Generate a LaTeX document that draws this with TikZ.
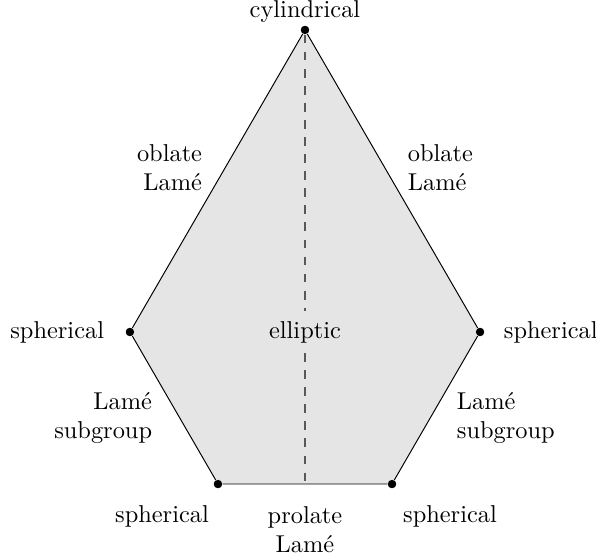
\documentclass[tikz,border=0pt]{standalone}
\usepackage{tikz}
\usetikzlibrary{positioning}

\begin{document}
\begin{tikzpicture}[x=0.41pt, y=-0.41pt,
          every node/.style={inner sep=1pt},
          vertex/.style={circle, fill=black, inner sep=0pt, minimum size=3.4pt},
          leftlabel/.style={anchor=east, align=right},
          rightlabel/.style={anchor=west, align=left},
          axis/.style={black!65, line width=0.6pt, dash pattern=on 3.6pt off 3.4pt}]
          \useasboundingbox (0,0) rectangle (596,560);
          % vertices of the hexagon
          \node[vertex] (top) at (305,30) {};
          \node[vertex] (l) at (130,332) {};
          \node[vertex] (r) at (480,332) {};
          \node[vertex] (bl) at (218,484) {};
          \node[vertex] (br) at (392,484) {};
          \coordinate (bm) at (305,484);

          \fill[gray!20] (top.center) -- (r.center) -- (br.center) -- (bl.center) -- (l.center) -- cycle;
          \node[inner sep=4pt] (ell) at (305,332) {elliptic};
          \draw[axis] (top) -- (ell);
          \draw[axis] (ell) -- (bm);
          \draw (top) -- (r) -- (br) -- (bl) -- (l) -- (top);
          \node[vertex] at (top) {};
          \node[vertex] at (l) {};
          \node[vertex] at (r) {};
          \node[vertex] at (bl) {};
          \node[vertex] at (br) {};

          % labels
          \node[above=0pt of top] (cyl) {cylindrical};
          \node[leftlabel] (obl) at (205,168) {oblate\\Lam\'e};
          \node[rightlabel] (obr) at (405,168) {oblate\\Lam\'e};
          \node[leftlabel] (sphl) at (107,332) {spherical};
          \node[rightlabel] (sphr) at (501,332) {spherical};
          \node[leftlabel] (subl) at (155,418) {Lam\'e\\subgroup};
          \node[rightlabel] (subr) at (454,418) {Lam\'e\\subgroup};
          \node (sphbl) at (162,516) {spherical};
          \node (sphbr) at (450,516) {spherical};
          \node[align=center] (pro) at (305,530) {prolate\\Lam\'e};
        \end{tikzpicture}
\end{document}
